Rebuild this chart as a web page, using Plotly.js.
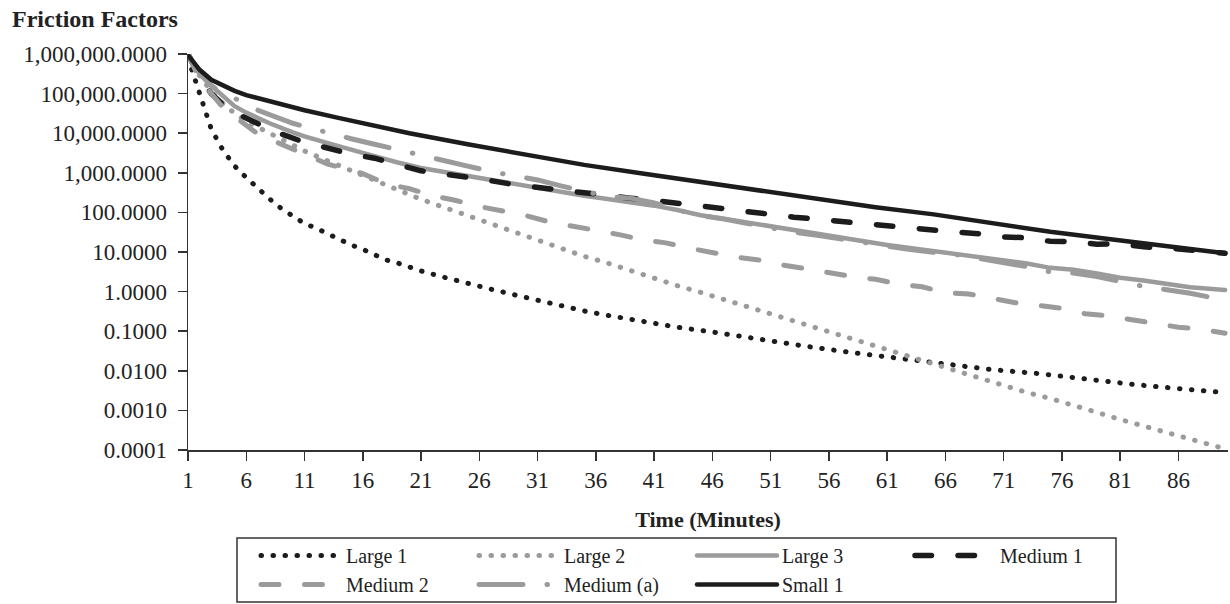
<!DOCTYPE html>
<html><head><meta charset="utf-8">
<script src="https://cdn.plot.ly/plotly-3.0.1.min.js"></script>
<style>
html,body{margin:0;padding:0;background:#fff;}
#chart{width:1230px;height:604px;}
path.js-line{stroke-linecap:round !important;}
</style></head><body><div id="chart"></div>
<script>
// Friction factors (log scale) vs time in minutes
const seriesNames = ["Large 1","Large 2","Large 3","Medium 1","Medium 2","Medium (a)","Small 1"];

const large1Min = [1,2,3,4,5,6,7,8,9,10,11,12,13,14,15,16,17,18,19,20,21,23,25,27,29,31,33,35,37,40,43,46,50,54,58,62,66,70,74,78,82,86,90];
const large1 = [794000,89100,12600,3720,1480,759,398,219,126,79.4,52.5,39.8,28.8,20.0,15.1,11.7,8.32,6.31,5.25,4.17,3.31,2.29,1.585,1.15,0.832,0.603,0.437,0.324,0.251,0.174,0.126,0.0955,0.0617,0.0417,0.0288,0.0209,0.0148,0.0107,0.00851,0.00617,0.00457,0.00355,0.00282];

const large2Min = [1,2,3,4,5,6,8,11,13,15,17,19,21,23,25,27,29,31,33,35,37,39,41,43,45,47,49,51,53,55,57,59,61,63,65,67,69,71,73,75,77,79,81,83,85,87,89,90];
const large2 = [980000,282000,112000,56200,31600,20000,10000,3550,2000,1120,631,372,214,132,81.3,50.1,31.6,20.0,12.6,7.76,5.25,3.31,2.24,1.41,0.955,0.631,0.417,0.275,0.182,0.120,0.0794,0.0525,0.0347,0.0229,0.0151,0.0100,0.00661,0.00417,0.00282,0.00200,0.00138,0.000891,0.000589,0.000398,0.000269,0.000191,0.000126,0.000107];

const large3Min = [1,2,3,4,5,6,8,10,11,13,15,17,19,21,23,25,27,29,31,33,35,37,39,41,43,45,47,49,51,53,55,57,59,61,63,65,67,69,71,73,75,77,79,81,83,85,87,90];
const large3 = [1000000,355000,158000,83200,47900,33100,17800,10500,8320,5620,3720,2630,1820,1320,1050,832,661,513,417,316,263,219,186,148,115,85.1,69.2,55.0,43.7,34.7,28.8,23.4,18.6,15.1,12.6,11.0,9.33,7.41,6.31,5.13,3.98,3.55,2.88,2.24,1.91,1.55,1.29,1.10];

const medium1Min = [1,2,3,4,5,6,7,8,9,10,11,12,13,15,17,19,21,23,25,27,29,31,33,35,37,39,41,43,45,47,49,51,53,55,57,59,61,63,65,67,69,71,73,75,77,79,81,83,85,87,90];
const medium1 = [1000000,251000,100000,52500,33100,23400,16600,12600,9550,7410,5890,5010,4270,2950,2340,1580,1120,933,794,631,501,427,347,309,263,229,200,170,138,120,100,89.1,75.9,67.6,58.9,52.5,47.9,39.8,36.3,31.6,28.8,24.0,22.9,18.6,18.2,15.8,16.2,13.5,12.6,11.2,9.33];

const medium2Min = [1,2,3,4,5,6,7,8,9,10,11,12,13,14,16,18,20,22,24,26,28,30,32,34,36,38,40,42,44,46,48,50,52,54,56,58,60,62,64,66,68,70,72,74,76,78,80,82,84,86,88,90];
const medium2 = [1000000,224000,100000,44700,26300,15800,9550,7080,5250,3980,2950,2140,1660,1380,955,525,398,263,200,141,105,83.2,57.5,45.7,33.9,27.5,20.4,17.0,12.6,9.77,7.41,6.31,4.68,3.80,2.95,2.40,2.04,1.55,1.32,0.933,0.871,0.676,0.525,0.447,0.380,0.275,0.245,0.195,0.158,0.126,0.112,0.0891];

const mediumAMin = [1,2,3,4,5,6,7,8,9,10,11,13,15,17,19,21,23,25,27,29,31,33,35,37,39,41,43,45,47,49,51,53,55,57,59,61,63,65,67,69,71,73,75,77,79,81,83,85,87,90];
const mediumA = [1000000,316000,158000,100000,75900,56200,38000,29500,22400,17800,14800,10000,7240,5250,3890,2690,2090,1480,1070,871,661,468,331,251,229,174,115,83.2,67.6,52.5,39.8,31.6,26.3,21.4,16.6,13.8,11.5,9.77,8.51,6.76,5.50,4.27,3.16,2.95,2.40,1.74,1.35,1.12,0.912,0.603];

const small1Min = [1,2,3,4,5,6,7,8,11,14,17,20,25,30,35,40,45,50,55,60,65,70,75,80,85,90];
const small1 = [933000,398000,224000,158000,117500,91200,75900,63100,38000,24000,15500,10000,5250,2880,1585,955,589,355,214,135,89.1,52.5,32.4,21.4,13.8,9.3];

const BLACK = '#1c1c1c', GRAY = '#9b9b9b';
const FONT = '"Liberation Serif", "Times New Roman", serif';

function tr(name, x, y, color, width, dash) {
  return {type:'scatter', mode:'lines', name:name, x:x, y:y,
          line:{color:color, width:width, dash:dash}, hoverinfo:'skip'};
}

const data = [
  tr(seriesNames[0], large1Min, large1, BLACK, 5, '0.5px,11.5px'),
  tr(seriesNames[1], large2Min, large2, GRAY, 5, '0.5px,11.5px'),
  tr(seriesNames[2], large3Min, large3, GRAY, 4.5, 'solid'),
  tr(seriesNames[3], medium1Min, medium1, BLACK, 5.5, '16.5px,26.5px'),
  tr(seriesNames[4], medium2Min, medium2, GRAY, 5, '18px,25.5px'),
  tr(seriesNames[5], mediumAMin, mediumA, GRAY, 5, '44px,24px,0.5px,24px'),
  tr(seriesNames[6], small1Min, small1, BLACK, 4.5, 'solid')
];

const axisCommon = {showgrid:false, zeroline:false, linecolor:'#333', linewidth:1.5,
  tickcolor:'#333', tickwidth:1.5, ticklen:9};

// pixel geometry of plot area, used to place the legend frame
const PL = 188, PR = 1228, PT = 54, PB = 450;
const px2x = p => (p - PL) / (PR - PL);
const px2y = p => (PB - p) / (PB - PT);

const layout = {
  width:1230, height:604,
  margin:{l:PL, r:1230-PR, t:PT, b:604-PB},
  paper_bgcolor:'#fff', plot_bgcolor:'#fff',
  showlegend:true,
  font:{family:FONT, color:'#222', size:20},
  title:{text:'<b>Friction Factors</b>', font:{family:FONT, size:24, color:'#222'},
         xref:'container', yref:'container', x:12/1230, xanchor:'left', y:1-19/604, yanchor:'middle'},
  xaxis: Object.assign({}, axisCommon, {
    range:[1, 90.25], tickmode:'linear', tick0:1, dtick:5, ticks:'outside',
    showline:true, tickfont:{family:FONT, size:23, color:'#222'},
    title:{text:'<b>Time (Minutes)</b>', font:{family:FONT, size:22, color:'#222'}, standoff:19}
  }),
  yaxis: Object.assign({}, axisCommon, {
    type:'log', range:[-4, 6], dtick:1, tickformat:',.4f', ticks:'outside',
    showline:true, tickfont:{family:FONT, size:23, color:'#222'}, ticklabelstandoff:6
  }),
  xaxis2: Object.assign({}, axisCommon, {
    overlaying:'x', anchor:'y', range:[1, 90.25], tickmode:'linear', tick0:1, dtick:5,
    ticks:'inside', showline:false, showticklabels:false
  }),
  yaxis2: Object.assign({}, axisCommon, {
    overlaying:'y', anchor:'x', type:'log', range:[-4, 6], dtick:1,
    ticks:'inside', showline:false, showticklabels:false
  }),
  legend:{orientation:'h', xref:'container', yref:'container',
    x:256/1230, xanchor:'left', y:1-536/604, yanchor:'top',
    borderwidth:0, bgcolor:'rgba(0,0,0,0)',
    itemwidth:80, entrywidthmode:'pixels', entrywidth:123,
    font:{family:FONT, size:20, color:'#222'}, traceorder:'normal', itemclick:false, itemdoubleclick:false},
  shapes:[{type:'rect', xref:'paper', yref:'paper', layer:'above',
    x0:px2x(237), x1:px2x(1116), y0:px2y(538), y1:px2y(602),
    line:{color:'#333', width:1.5}, fillcolor:'rgba(0,0,0,0)'}]
};

Plotly.newPlot('chart', data, layout, {displayModeBar:false, staticPlot:true});
</script></body></html>
